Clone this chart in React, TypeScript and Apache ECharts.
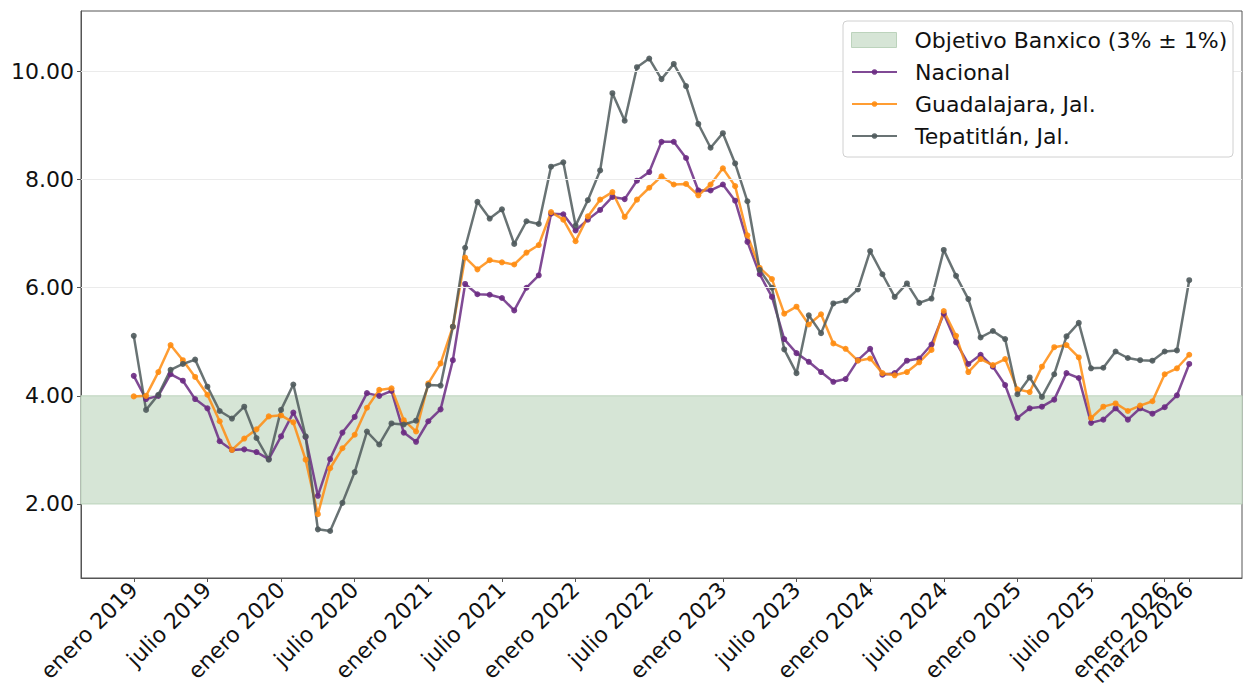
import React, { useEffect, useRef } from "react";
import * as echarts from "echarts";

const tickMonths = [0, 6, 12, 18, 24, 30, 36, 42, 48, 54, 60, 66, 72, 78, 84, 86];
const tickLabels = [
  "enero 2019", "julio 2019", "enero 2020", "julio 2020", "enero 2021", "julio 2021",
  "enero 2022", "julio 2022", "enero 2023", "julio 2023", "enero 2024", "julio 2024",
  "enero 2025", "julio 2025", "enero 2026", "marzo 2026",
];
const yTicks = [2, 4, 6, 8, 10];

const nacional = [
  4.37, 3.94, 4.0, 4.4, 4.28, 3.94, 3.77, 3.16, 3.0, 3.01, 2.96, 2.83,
  3.25, 3.69, 3.24, 2.15, 2.83, 3.32, 3.61, 4.05, 4.0, 4.09, 3.32, 3.15,
  3.53, 3.75, 4.66, 6.07, 5.88, 5.87, 5.81, 5.58, 6.0, 6.23, 7.37, 7.36,
  7.06, 7.26, 7.44, 7.68, 7.64, 7.98, 8.14, 8.7, 8.7, 8.4, 7.8, 7.8,
  7.91, 7.61, 6.85, 6.25, 5.83, 5.05, 4.79, 4.63, 4.44, 4.26, 4.31, 4.66,
  4.87, 4.39, 4.42, 4.65, 4.69, 4.95, 5.52, 4.99, 4.59, 4.76, 4.54, 4.2,
  3.59, 3.77, 3.8, 3.93, 4.42, 4.33, 3.5, 3.56, 3.77, 3.56, 3.77, 3.67,
  3.79, 4.01, 4.59,
];
const guadalajara = [
  3.99, 4.0, 4.44, 4.94, 4.66, 4.35, 4.02, 3.53, 3.0, 3.21, 3.38, 3.62,
  3.64, 3.51, 2.82, 1.81, 2.66, 3.03, 3.28, 3.78, 4.11, 4.14, 3.55, 3.34,
  4.23, 4.6, 5.28, 6.56, 6.34, 6.51, 6.47, 6.43, 6.65, 6.79, 7.4, 7.26,
  6.86, 7.32, 7.63, 7.77, 7.31, 7.63, 7.85, 8.06, 7.91, 7.92, 7.71, 7.91,
  8.21, 7.88, 6.97, 6.37, 6.16, 5.52, 5.65, 5.32, 5.51, 4.97, 4.87, 4.65,
  4.69, 4.42, 4.38, 4.44, 4.62, 4.85, 5.57, 5.11, 4.44, 4.68, 4.57, 4.68,
  4.12, 4.07, 4.54, 4.9, 4.94, 4.71, 3.59, 3.8, 3.86, 3.72, 3.82, 3.9,
  4.4, 4.51, 4.76,
];
const tepatitlan = [
  5.11, 3.74, 4.02, 4.48, 4.59, 4.67, 4.17, 3.72, 3.58, 3.8, 3.22, 2.82,
  3.74, 4.21, 3.25, 1.53, 1.5, 2.02, 2.59, 3.34, 3.1, 3.49, 3.47, 3.54,
  4.2, 4.19, 5.28, 6.74, 7.59, 7.28, 7.45, 6.81, 7.23, 7.18, 8.24, 8.32,
  7.15, 7.62, 8.17, 9.6, 9.09, 10.08, 10.24, 9.86, 10.14, 9.73, 9.03, 8.59,
  8.86, 8.3, 7.6, 6.33, 6.0, 4.86, 4.42, 5.49, 5.16, 5.71, 5.76, 5.97,
  6.68, 6.25, 5.83, 6.08, 5.72, 5.8, 6.7, 6.22, 5.79, 5.08, 5.2, 5.05,
  4.03, 4.34, 3.98, 4.4, 5.1, 5.35, 4.51, 4.52, 4.82, 4.7, 4.66, 4.65,
  4.82, 4.84, 6.14,
];

const bandName = "Objetivo Banxico (3% ± 1%)";
const bandLow = 2;
const bandHigh = 4;
const lineNames = ["Nacional", "Guadalajara, Jal.", "Tepatitlán, Jal."];

const FONT = "DejaVu Sans";
const FS = 22;
const X_MIN = -4.3;
const X_MAX = 90.3;

function lineSeries(name: string, values: number[], color: string) {
  return {
    type: "line",
    name,
    xAxisIndex: 0,
    data: values.map((v, i) => [i, v]),
    symbol: "circle",
    symbolSize: 6,
    lineStyle: { color, width: 2.5, opacity: 0.85 },
    itemStyle: { color, opacity: 0.9 },
    z: 3,
  };
}

function labelFor(v: number) {
  const idx = tickMonths.indexOf(Math.round(v));
  return idx >= 0 ? tickLabels[idx] : "";
}

export default function App() {
  const ref = useRef<HTMLDivElement>(null);
  useEffect(() => {
    if (!ref.current) return;
    const chart = echarts.init(ref.current, undefined, { renderer: "svg" });
    const bandColor = "#d6e5d6";
    const legendText = {
      fontSize: FS,
      fontFamily: FONT,
      color: "#111",
      lineHeight: 26,
      padding: [0, 0, 0, 13],
    };
    const lastTick = tickMonths[tickMonths.length - 1];
    const mainLabelTicks = tickMonths.slice(0, -1);
    const labelCommon = {
      hideOverlap: false,
      rotate: 45,
      margin: 8,
      fontSize: FS,
      fontFamily: FONT,
      color: "#111",
      formatter: labelFor,
    };
    chart.setOption({
      animation: false,
      backgroundColor: "#ffffff",
      textStyle: { fontFamily: FONT },
      grid: {
        left: 81, top: 11, right: 1, bottom: 114,
        show: true, borderColor: "#555", borderWidth: 1, backgroundColor: "transparent",
      },
      graphic: {
        elements: [
          {
            type: "rect",
            z: 50,
            shape: { x: 843, y: 21, width: 390, height: 136, r: 4 },
            style: { fill: "#ffffff", stroke: "#d0d0d0", lineWidth: 1 },
          },
        ],
      },
      xAxis: [
        {
          type: "value",
          position: "bottom",
          min: X_MIN,
          max: X_MAX,
          splitLine: { show: false },
          axisLine: { show: true, onZero: false, lineStyle: { color: "#555", width: 1 } },
          axisTick: { show: true, customValues: tickMonths, length: 4, lineStyle: { color: "#555" } },
          axisLabel: { ...labelCommon, customValues: mainLabelTicks },
        },
        {
          type: "value",
          position: "bottom",
          offset: 0,
          min: X_MIN,
          max: X_MAX,
          splitLine: { show: false },
          axisLine: { show: false, onZero: false },
          axisTick: { show: false },
          axisLabel: { ...labelCommon, customValues: [lastTick] },
        },
      ],
      yAxis: {
        type: "value",
        min: 0.63,
        max: 11.12,
        splitLine: { show: false },
        axisLine: { show: true, onZero: false, lineStyle: { color: "#555", width: 1 } },
        axisTick: { show: true, customValues: yTicks, length: 4, lineStyle: { color: "#555" } },
        axisLabel: {
          customValues: yTicks,
          margin: 7,
          fontSize: FS,
          fontFamily: FONT,
          color: "#111",
          formatter: (v: number) => v.toFixed(2),
        },
      },
      legend: [
        {
          left: 851,
          top: 27,
          z: 60,
          orient: "vertical",
          itemWidth: 45,
          itemHeight: 15,
          padding: 0,
          selectedMode: false,
          textStyle: legendText,
          data: [
            { name: bandName, icon: "rect", itemStyle: { color: bandColor, borderColor: "#bcd3bc", borderWidth: 1 } },
          ],
        },
        {
          left: 851,
          top: 59,
          z: 60,
          orient: "vertical",
          itemWidth: 45,
          itemHeight: 7,
          itemGap: 6,
          padding: 0,
          selectedMode: false,
          textStyle: legendText,
          data: lineNames,
        },
      ],
      series: [
        {
          type: "line",
          name: bandName,
          xAxisIndex: 0,
          data: [],
          color: bandColor,
          z: 1,
          markArea: {
            silent: true,
            itemStyle: { color: bandColor, borderColor: "#bcd3bc", borderWidth: 1 },
            data: [[{ yAxis: bandLow }, { yAxis: bandHigh }]],
          },
          markLine: {
            silent: true,
            symbol: "none",
            label: { show: false },
            lineStyle: { color: "#ebebeb", width: 1, type: "solid" },
            data: yTicks.filter((t) => t > bandHigh).map((t) => ({ yAxis: t })),
          },
        },
        lineSeries(lineNames[0], nacional, "#6a2a82"),
        lineSeries(lineNames[1], guadalajara, "#ff8c0f"),
        lineSeries(lineNames[2], tepatitlan, "#4f5a5c"),
      ],
    });
    return () => chart.dispose();
  }, []);
  return (
    <div
      ref={ref}
      style={{ position: "fixed", left: 0, top: 0, width: 1243, height: 692, background: "#fff" }}
    />
  );
}
